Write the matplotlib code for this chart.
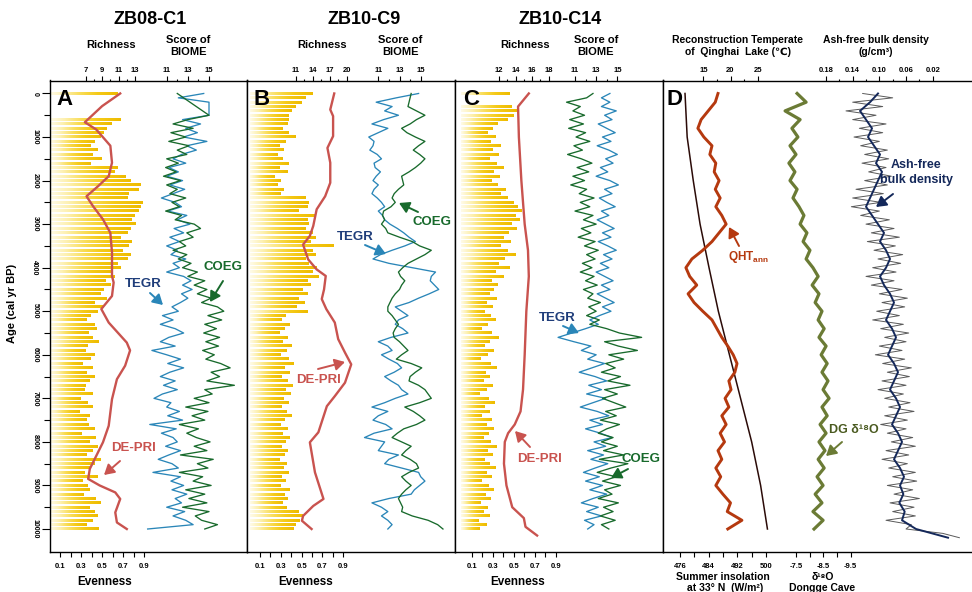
import numpy as np
import matplotlib
matplotlib.use("Agg")
import matplotlib.pyplot as plt
from matplotlib.text import Annotation
from matplotlib.colors import LinearSegmentedColormap

plt.rcParams['font.family'] = ['Liberation Sans', 'DejaVu Sans']
plt.rcParams['font.weight'] = 'bold'
plt.rcParams['mathtext.default'] = 'regular'

# ---------------------------------------------------------------- data
sample_age = np.arange(0, 10001, 100)          # pollen sample ages (cal yr BP)

# --- ZB08-C1
even_a = [0.64, 0, 0, 0, 0, 0, 0.67, 0.59, 0.54, 0.51,
          0.48, 0.42, 0.39, 0.45, 0.40, 0.49, 0.39, 0.64, 0.61, 0.72,
          0.77, 0.86, 0.84, 0.75, 0.74, 0.88, 0.86, 0.84, 0.80, 0.78,
          0.81, 0.77, 0.74, 0.67, 0.78, 0.75, 0.69, 0.77, 0.74, 0.64,
          0.67, 0.58, 0.61, 0.53, 0.58, 0.51, 0.48, 0.54, 0.42, 0.51,
          0.45, 0.39, 0.35, 0.42, 0.44, 0.37, 0.40, 0.46, 0.36, 0.34,
          0.42, 0.39, 0.31, 0.40, 0.35, 0.42, 0.38, 0.34, 0.33, 0.40,
          0.29, 0.36, 0.40, 0.28, 0.38, 0.35, 0.37, 0.42, 0.30, 0.43,
          0.38, 0.45, 0.40, 0.35, 0.48, 0.42, 0.38, 0.33, 0.45, 0.31,
          0.36, 0.38, 0.32, 0.43, 0.48, 0.38, 0.42, 0.45, 0.40, 0.35,
          0.46]
rich_a_age = [0, 290, 660, 830, 1200, 1590, 1900, 2130, 2360, 2590,
              2890, 3200, 3650, 4190, 4340, 4650, 4950, 5260, 5720, 5900,
              6250, 6560, 7020, 7630, 8010, 8620, 8850, 9000, 9160, 9310,
              9620, 9850, 10000]
rich_a = [11.2, 9.0, 6.9, 8.3, 10.0, 10.2, 9.8, 8.5, 7.1, 7.9,
          9.1, 10.0, 10.2, 10.2, 10.4, 10.2, 8.9, 9.8, 12.0, 12.4,
          11.8, 10.8, 10.2, 9.8, 9.1, 7.5, 7.3, 8.7, 10.6, 11.2,
          10.6, 10.8, 12.0]
tegr_a = [14.5, 12.1, 15.0, 15.0, 15.0, 15.0, 12.5, 14.2, 12.8, 13.9,
          12.6, 14.8, 12.9, 13.8, 12.4, 11.6, 12.8, 11.2, 12.1, 11.0,
          12.5, 11.3, 12.7, 11.6, 10.5, 11.8, 12.4, 11.1, 12.9, 12.0,
          13.2, 11.7, 12.6, 11.3, 12.2, 11.0, 12.0, 11.4, 12.8, 11.6,
          12.2, 11.0, 12.6, 13.3, 12.5, 13.4, 12.4, 13.0, 12.3, 11.5,
          12.1, 10.6, 11.6, 10.4, 11.8, 12.6, 11.2, 10.4, 11.8, 9.6,
          11.0, 12.3, 11.1, 12.6, 11.3, 10.4, 11.8, 10.7, 12.0, 10.6,
          9.8, 11.4, 11.0, 12.2, 11.1, 12.5, 9.4, 11.9, 10.5, 11.6,
          12.0, 10.9, 12.3, 11.2, 10.2, 11.5, 12.1, 9.7, 12.3, 11.4,
          12.6, 11.5, 12.9, 11.8, 12.4, 11.0, 12.7, 11.6, 12.8, 13.5,
          9.2]
coeg_a = [12.0, 12.6, 13.2, 13.8, 14.4, 15.0, 13.0, 11.6, 13.5, 11.4,
          12.8, 11.2, 13.1, 12.0, 12.9, 11.0, 12.1, 10.9, 11.9, 10.7,
          12.3, 11.0, 12.0, 11.3, 12.8, 11.5, 12.2, 10.9, 12.4, 11.8,
          13.6, 14.2, 12.9, 13.5, 12.2, 12.8, 11.6, 12.9, 12.1, 13.3,
          12.5, 13.9, 13.0, 14.6, 13.6, 14.8, 13.9, 15.2, 14.3, 15.8,
          16.4, 14.9, 16.2, 14.6, 15.7, 14.5, 16.0, 14.7, 15.9, 14.4,
          15.5, 14.7, 16.1, 17.0, 15.2, 16.0, 14.8, 17.4, 14.6, 15.3,
          13.6, 15.0, 12.8, 14.9, 13.4, 14.6, 12.2, 14.0, 12.9, 13.8,
          15.1, 13.6, 14.8, 12.3, 15.4, 13.9, 14.9, 12.2, 14.4, 13.5,
          15.2, 12.8, 14.6, 13.1, 14.8, 12.5, 15.0, 13.7, 14.3, 15.8,
          14.6]

# --- ZB10-C9
even_b = [0.60, 0.53, 0.49, 0.44, 0.40, 0.37, 0.37, 0.36, 0.31, 0.37,
          0.44, 0.34, 0.28, 0.32, 0.26, 0.31, 0.37, 0.28, 0.36, 0.24,
          0.29, 0.26, 0.32, 0.29, 0.53, 0.56, 0.55, 0.47, 0.63, 0.55,
          0.56, 0.53, 0.60, 0.63, 0.58, 0.80, 0.60, 0.63, 0.53, 0.56,
          0.64, 0.60, 0.66, 0.55, 0.58, 0.50, 0.55, 0.47, 0.52, 0.45,
          0.55, 0.34, 0.30, 0.38, 0.33, 0.28, 0.36, 0.31, 0.40, 0.35,
          0.29, 0.37, 0.42, 0.33, 0.38, 0.30, 0.36, 0.41, 0.34, 0.39,
          0.32, 0.37, 0.30, 0.35, 0.40, 0.33, 0.29, 0.36, 0.31, 0.38,
          0.34, 0.30, 0.36, 0.33, 0.28, 0.35, 0.32, 0.37, 0.30, 0.34,
          0.29, 0.38, 0.33, 0.36, 0.31, 0.35, 0.47, 0.50, 0.48, 0.44,
          0.42]
rich_b_age = [0, 370, 520, 980, 1250, 1590, 2050, 2360, 2660, 3040,
              3270, 3470, 3810, 4040, 4190, 4500, 4720, 4950, 5260, 5640,
              5950, 6220, 6640, 6950, 7180, 7780, 8010, 8240, 8700, 9310,
              9470, 9700, 9810, 10000]
rich_b = [17.8, 17.1, 17.6, 17.6, 16.6, 17.1, 17.1, 16.2, 14.7, 14.1,
          13.5, 12.3, 13.2, 14.7, 16.3, 16.0, 15.6, 16.4, 17.9, 18.5,
          19.7, 20.8, 19.7, 17.9, 16.5, 15.0, 13.5, 13.8, 14.4, 15.9,
          14.1, 12.3, 12.1, 13.8]
tegr_b = [14.8, 12.7, 10.8, 12.3, 11.6, 12.9, 11.5, 10.4, 11.9, 11.0,
          10.1, 10.6, 10.5, 10.2, 10.9, 11.3, 10.6, 10.7, 11.2, 10.8,
          10.5, 11.0, 10.6, 10.4, 10.9, 11.3, 11.6, 11.0, 11.4, 11.6,
          12.1, 12.8, 13.4, 13.9, 14.5, 13.5, 12.3, 11.2, 10.5, 12.0,
          14.2, 16.4, 16.0, 15.9, 16.3, 16.7, 15.8, 14.8, 13.9, 12.6,
          13.2, 13.8, 12.9, 12.6, 13.3, 13.8, 12.2, 11.0, 11.9, 12.3,
          11.3, 12.0, 12.8, 13.2, 12.5, 11.6, 12.2, 12.9, 13.2, 13.8,
          12.6, 11.6, 10.4, 11.9, 11.0, 10.5, 11.7, 12.3, 10.6, 9.7,
          11.6, 11.3, 11.0, 12.9, 12.0, 11.6, 13.2, 14.8, 15.0, 15.4,
          14.9, 14.4, 14.1, 12.0, 10.4, 11.3, 11.9, 11.3, 11.9, 12.3,
          11.9]
coeg_b = [14.1, 14.0, 13.9, 13.8, 14.6, 15.4, 14.6, 14.0, 13.2, 13.7,
          14.5, 15.4, 14.8, 14.3, 14.9, 15.4, 15.0, 14.5, 13.9, 13.2,
          13.3, 13.4, 12.9, 12.5, 12.3, 12.6, 12.2, 11.5, 11.4, 11.6,
          11.3, 11.7, 11.9, 13.0, 14.2, 14.9, 16.0, 15.4, 14.6, 13.8,
          13.3, 12.9, 13.1, 13.5, 13.2, 13.0, 12.6, 12.3, 12.1, 11.9,
          11.9, 12.3, 12.6, 12.9, 12.6, 12.4, 12.5, 13.0, 13.4, 13.8,
          13.2, 12.7, 14.1, 15.1, 14.5, 14.0, 13.9, 14.8, 15.4, 15.7,
          16.0, 14.9, 13.5, 14.3, 14.9, 15.4, 14.6, 13.4, 12.8, 12.3,
          13.2, 14.1, 13.6, 13.2, 14.0, 14.6, 14.8, 13.9, 13.2, 13.6,
          14.1, 13.6, 13.2, 12.9, 13.1, 13.3, 13.2, 14.2, 15.7, 16.6,
          17.1]

# --- ZB10-C14
even_c = [0.46, 0, 0, 0.48, 0.53, 0.50, 0.44, 0.35, 0.30, 0.25,
          0.33, 0.28, 0.38, 0.30, 0.36, 0.27, 0.34, 0.40, 0.31, 0.37,
          0.29, 0.35, 0.42, 0.38, 0.44, 0.50, 0.54, 0.58, 0.52, 0.56,
          0.48, 0.53, 0.45, 0.40, 0.47, 0.38, 0.44, 0.52, 0.41, 0.36,
          0.46, 0.33, 0.40, 0.29, 0.35, 0.31, 0.27, 0.34, 0.24, 0.30,
          0.22, 0.28, 0.33, 0.25, 0.20, 0.29, 0.36, 0.27, 0.22, 0.31,
          0.25, 0.19, 0.28, 0.34, 0.23, 0.27, 0.21, 0.30, 0.24, 0.18,
          0.26, 0.32, 0.22, 0.27, 0.20, 0.29, 0.24, 0.31, 0.26, 0.21,
          0.28, 0.34, 0.25, 0.30, 0.22, 0.27, 0.33, 0.24, 0.29, 0.20,
          0.26, 0.31, 0.23, 0.28, 0.19, 0.25, 0.21, 0.27, 0.17, 0.24,
          0.18]
rich_c_age = [0, 300, 1000, 2000, 3000, 3600, 4200, 5000, 6000, 6800,
              7300, 7600, 7800, 8000, 8500, 9000, 9500, 9750, 9950, 10150]
rich_c = [15.6, 14.3, 14.4, 14.7, 15.1, 15.5, 15.6, 15.3, 15.1, 14.9,
          14.6, 13.9, 13.1, 12.7, 12.6, 12.9, 13.6, 15.0, 15.2, 16.6]
tegr_c = [14.3, 13.5, 14.3, 13.5, 14.9, 13.8, 14.5, 13.2, 14.0, 14.8,
          13.6, 14.4, 13.1, 14.2, 15.0, 13.9, 14.6, 13.4, 14.1, 13.0,
          14.3, 15.1, 13.8, 14.5, 13.3, 14.0, 14.8, 13.5, 14.2, 13.1,
          13.9, 14.7, 13.6, 14.4, 13.2, 14.1, 14.9, 13.7, 14.5, 13.4,
          14.2, 13.0, 13.8, 14.6, 13.5, 14.3, 13.1, 13.9, 14.7, 13.6,
          14.4, 13.3, 12.4, 13.2, 12.0, 10.7, 9.4, 10.9, 12.5, 11.6,
          13.0, 12.2, 13.8, 12.6, 11.4, 12.9, 14.0, 12.3, 13.5, 12.1,
          13.9, 12.7, 11.5, 13.1, 14.2, 12.4, 13.6, 12.0, 13.4, 14.5,
          12.8, 13.9, 12.2, 13.7, 12.5, 14.1, 12.9, 11.8, 13.3, 12.0,
          13.6, 12.4, 14.0, 12.7, 11.6, 13.2, 12.1, 13.5, 11.9, 12.8,
          12.2]
coeg_c = [12.7, 12.1, 10.2, 11.5, 10.8, 11.9, 10.5, 11.8, 10.4, 12.0,
          11.1, 12.4, 10.9, 11.7, 10.3, 11.6, 12.6, 11.2, 12.3, 10.8,
          11.9, 10.6, 12.1, 11.4, 12.8, 11.5, 12.4, 11.0, 12.7, 11.8,
          13.0, 11.6, 12.5, 11.3, 12.9, 11.9, 13.2, 12.1, 12.9, 11.7,
          12.6, 11.5, 12.8, 12.0, 13.1, 11.8, 12.7, 12.2, 13.4, 12.3,
          13.0, 12.1, 13.3, 12.4, 14.0, 15.2, 17.3, 13.8, 15.1, 16.9,
          14.2, 15.6, 13.9, 14.8, 13.5, 15.3, 14.1, 16.2, 13.8, 15.0,
          13.6, 14.7, 15.8, 13.9, 14.9, 13.4, 15.2, 14.0, 13.2, 14.6,
          13.5, 15.0, 13.7, 15.6, 13.3, 16.0, 14.4, 13.1, 14.9, 13.6,
          15.3, 13.8, 14.5, 13.2, 15.1, 13.7, 14.6, 13.4, 14.8, 13.5,
          14.2]

# --- regional records
record_age = np.arange(0, 10001, 200)
qht_ann = [17.7, 17.2, 15.9, 14.6, 14.0, 15.1, 16.6, 16.2, 17.3, 17.0,
           17.9, 17.2, 18.1, 17.3, 18.4, 19.2, 17.9, 16.6, 14.9, 12.9,
           11.8, 12.5, 13.8, 12.2, 13.3, 14.9, 16.6, 17.5, 18.4, 19.5,
           20.5, 21.2, 20.8, 19.7, 20.1, 19.0, 19.7, 18.4, 19.2, 18.1,
           18.9, 17.7, 18.4, 17.3, 18.2, 17.3, 18.6, 20.0, 19.4, 22.1,
           19.5]
dg_d18o = [-7.54, -7.87, -7.10, -7.65, -7.35, -7.57, -7.28, -7.50, -7.24, -7.46,
           -7.28, -7.54, -7.39, -7.61, -7.79, -7.65, -7.90, -7.76, -8.01, -7.87,
           -8.12, -8.31, -8.09, -8.34, -8.20, -8.45, -8.31, -8.53, -8.34, -8.60,
           -8.42, -8.64, -8.45, -8.67, -8.49, -8.71, -8.45, -8.64, -8.38, -8.60,
           -8.34, -8.56, -8.31, -8.53, -8.27, -8.49, -8.20, -8.45, -8.12, -8.49,
           -8.16]
insol_age = [0, 1000, 2000, 3000, 4000, 5000, 6000, 7000, 8000, 9000, 10000]
insolation = [477.4, 478.0, 479.7, 481.6, 484.1, 486.7, 489.8, 492.9, 496.0, 498.5, 500.4]

density_age = np.arange(0, 10201, 200)
density_smooth = [0.102, 0.114, 0.129, 0.120, 0.111, 0.117, 0.108, 0.099, 0.105, 0.096,
                  0.102, 0.108, 0.114, 0.120, 0.111, 0.102, 0.093, 0.099, 0.090, 0.084,
                  0.090, 0.099, 0.093, 0.084, 0.078, 0.084, 0.090, 0.081, 0.075, 0.081,
                  0.087, 0.078, 0.072, 0.078, 0.084, 0.075, 0.069, 0.075, 0.081, 0.072,
                  0.066, 0.072, 0.078, 0.069, 0.063, 0.069, 0.064, 0.070, 0.062, 0.066,
                  0.045, -0.003]
density_raw_age = np.arange(0, 10201, 100)
density_raw = [0.125, 0.080, 0.140, 0.095, 0.150, 0.105, 0.140, 0.090, 0.130, 0.095,
               0.138, 0.100, 0.128, 0.088, 0.122, 0.086, 0.126, 0.090, 0.116, 0.082,
               0.122, 0.088, 0.135, 0.094, 0.140, 0.098, 0.142, 0.100, 0.128, 0.085,
               0.120, 0.078, 0.112, 0.070, 0.118, 0.076, 0.108, 0.065, 0.102, 0.068,
               0.110, 0.075, 0.120, 0.078, 0.112, 0.066, 0.100, 0.058, 0.096, 0.062,
               0.104, 0.070, 0.110, 0.064, 0.098, 0.056, 0.092, 0.060, 0.100, 0.066,
               0.106, 0.062, 0.095, 0.052, 0.088, 0.055, 0.096, 0.060, 0.102, 0.064,
               0.092, 0.054, 0.086, 0.048, 0.092, 0.058, 0.098, 0.060, 0.088, 0.050,
               0.082, 0.046, 0.090, 0.056, 0.096, 0.058, 0.086, 0.046, 0.080, 0.044,
               0.088, 0.050, 0.078, 0.040, 0.084, 0.048, 0.080, 0.046, 0.090, 0.052,
               0.060, 0.005, -0.020]

# tick values
age_major = [0, 1000, 2000, 3000, 4000, 5000, 6000, 7000, 8000, 9000, 10000]
age_minor = [500, 1500, 2500, 3500, 4500, 5500, 6500, 7500, 8500, 9500]
even_major, even_minor = [0.1, 0.3, 0.5, 0.7, 0.9], [0.2, 0.4, 0.6, 0.8]
score_major, score_minor = [11, 13, 15], [12, 14]

# ---------------------------------------------------------------- styling
W, H = 972, 592
Y_TOP, Y_BOT = 80.5, 552.0
AGE_LIM = (10528, -298)

RED = '#c9534f'
BLUE = '#2a86b8'
GREEN = '#186a2c'
NAVY_TXT = '#1f3d7a'
QHT_C = '#b5390f'
INSOL_C = '#2b0b08'
DG_C = '#6b7b35'
DENS_C = '#14285a'
RAW_C = '#5a5a5a'
BAR_CMAP = LinearSegmentedColormap.from_list(
    'even', [(0, '#fffbe8'), (0.2, '#fdf0b0'), (0.45, '#f9dc55'),
             (0.7, '#f5ca18'), (1.0, '#eebb00')])
BAR_GRAD = np.linspace(0, 1, 64).reshape(1, -1)

fig = plt.figure(figsize=(W / 100, H / 100), dpi=100)


def add_axes(x0, x1):
    return fig.add_axes([x0 / W, 1 - Y_BOT / H, (x1 - x0) / W, (Y_BOT - Y_TOP) / H])


def span(v1, p1, v2, p2, x0, x1):
    s = (p2 - p1) / (v2 - v1)
    return (v1 + (x0 - p1) / s, v1 + (x1 - p1) / s)


def scale_axis(axis, lim, major, minor, fmt, where):
    axis.set_xlim(*lim)
    axis.set_xticks(major)
    axis.set_xticklabels([fmt.format(v) for v in major])
    axis.set_xticks(minor, minor=True)
    if where == 'top':
        axis.xaxis.tick_top()
        axis.tick_params(axis='x', which='major', length=3.4, pad=1.6)
        axis.tick_params(axis='x', which='minor', length=1.8)
    else:
        axis.xaxis.tick_bottom()
        axis.tick_params(axis='x', which='both', length=3.6, pad=4)
    axis.tick_params(axis='x', which='both', direction='out', width=0.8, labelsize=5.5)


def twin(ax):
    t = ax.twiny()
    for s in t.spines.values():
        s.set_visible(False)
    t.set_ylim(*AGE_LIM)
    return t


def frame(ax, show_age):
    for s in ax.spines.values():
        s.set_linewidth(1.0)
    ax.set_ylim(*AGE_LIM)
    if show_age:
        ax.set_yticks(age_major)
        ax.set_yticklabels([str(v) for v in age_major], rotation=270, va='center')
        ax.set_yticks(age_minor, minor=True)
        ax.tick_params(axis='y', which='major', direction='out', length=5.5, width=0.8,
                       labelsize=5, pad=2.5)
        ax.tick_params(axis='y', which='minor', direction='out', length=4.5, width=0.8)
    else:
        ax.tick_params(axis='y', which='both', left=False, labelleft=False)


def gradient_bars(ax, ages, values):
    # each bar fades from a pale cream at its base to gold at its tip
    bars = ax.barh(ages, values, height=62, left=0, color='none', linewidth=0)
    for b in bars:
        w = b.get_width()
        if w <= 0:
            continue
        y0 = b.get_y()
        ax.imshow(BAR_GRAD, cmap=BAR_CMAP, extent=(0, w, y0 + b.get_height(), y0),
                  aspect='auto', interpolation='bilinear', zorder=1)


def pollen_panel(x0, x1, even_px, rich_px, score_px, rich_ticks, even, rich_age, rich,
                 tegr, coeg, show_age):
    ax = add_axes(x0, x1)
    gradient_bars(ax, sample_age, even)
    scale_axis(ax, span(*even_px, x0, x1), even_major, even_minor, '{:g}', 'bottom')
    frame(ax, show_age)

    tr = twin(ax)
    tr.plot(rich, rich_age, color=RED, lw=1.7, solid_joinstyle='round')
    scale_axis(tr, span(*rich_px, x0, x1), rich_ticks[0], rich_ticks[1], '{:g}', 'top')

    ts = twin(ax)
    ts.plot(tegr, sample_age, color=BLUE, lw=0.95)
    ts.plot(coeg, sample_age, color=GREEN, lw=0.95)
    scale_axis(ts, span(*score_px, x0, x1), score_major, score_minor, '{:g}', 'top')
    return ax


pollen_panel(49.5, 246.5, (0.1, 60, 0.9, 144), (7, 85.7, 13, 135), (11, 166.7, 15, 209),
             ([7, 9, 11, 13], [8, 10, 12]), even_a, rich_a_age, rich_a, tegr_a, coeg_a, True)
pollen_panel(246.5, 454.5, (0.1, 260, 0.9, 343.3), (11, 295.7, 20, 346.7), (11, 378.3, 15, 420.7),
             ([11, 14, 17, 20], [12.5, 15.5, 18.5]), even_b, rich_b_age, rich_b, tegr_b, coeg_b, False)
pollen_panel(454.5, 662.5, (0.1, 471.7, 0.9, 555.7), (12, 499, 18, 548.7), (11, 575, 15, 617.3),
             ([12, 14, 16, 18], [13, 15, 17]), even_c, rich_c_age, rich_c, tegr_c, coeg_c, False)

# --- regional climate panel
dx0, dx1 = 662.5, 972.5
axd = add_axes(dx0, dx1)
axd.plot(insolation, insol_age, color=INSOL_C, lw=1.1)
scale_axis(axd, span(476, 680, 500, 766, dx0, dx1), [476, 484, 492, 500], [480, 488, 496], '{:g}', 'bottom')
frame(axd, False)

t_o = twin(axd)
t_o.plot(dg_d18o, record_age, color=DG_C, lw=2.3, solid_joinstyle='round')
scale_axis(t_o, span(-7.5, 796, -9.5, 850.7, dx0, dx1), [-7.5, -8.5, -9.5], [-8.0, -9.0], '{:g}', 'bottom')

t_t = twin(axd)
t_t.plot(qht_ann, record_age, color=QHT_C, lw=2.1, solid_joinstyle='round')
scale_axis(t_t, span(15, 703.3, 25, 757.7, dx0, dx1), [15, 20, 25], [17.5, 22.5], '{:g}', 'top')

t_d = twin(axd)
t_d.plot(density_raw, density_raw_age, color=RAW_C, lw=0.7)
t_d.plot(density_smooth, density_age, color=DENS_C, lw=1.4)
scale_axis(t_d, span(0.18, 826, 0.02, 932.7, dx0, dx1), [0.18, 0.14, 0.10, 0.06, 0.02],
           [0.16, 0.12, 0.08, 0.04], '{:.2f}', 'top')


# ---------------------------------------------------------------- text
def label(x, y, s, size=8, color='black', rotation=0):
    fig.text(x / W, 1 - y / H, s, fontsize=size, color=color, ha='center', va='center',
             fontweight='bold', rotation=rotation)


def arrow(tail, head, color):
    fig.add_artist(Annotation('', xy=(head[0], H - head[1]), xycoords='figure pixels',
                              xytext=(tail[0], H - tail[1]), textcoords='figure pixels',
                              arrowprops=dict(arrowstyle='-|>,head_length=0.6,head_width=0.35',
                                              color=color, lw=1.4, shrinkA=0, shrinkB=0,
                                              mutation_scale=10)))


for s, x in [('ZB08-C1', 150), ('ZB10-C9', 364.5), ('ZB10-C14', 560.5)]:
    label(x, 20, s, size=13)
for x in [111.5, 322.5, 525]:
    label(x, 45, 'Richness', size=8)
for x in [188, 400, 596]:
    label(x, 40, 'Score of', size=8)
    label(x, 52, 'BIOME', size=8)
for x in [105, 305.7, 517.5]:
    label(x, 581.7, 'Evenness', size=8.5)

label(737.5, 40, 'Reconstruction Temperate', size=7.5)
label(737.5, 51.7, 'of  Qinghai  Lake (\u2103)', size=7.5)
label(876, 40, 'Ash-free bulk density', size=7.5)
label(876, 52, '(g/cm\u00b3)', size=7.5)
label(722.5, 576.7, 'Summer insolation', size=7.5)
label(725, 588.3, 'at 33\u00b0 N  (W/m\u00b2)', size=7.5)
label(823, 576.7, '\u03b4\u00b9\u2078O', size=7.5)
label(821.7, 588.3, 'Dongge Cave', size=7.5)
label(12, 303, 'Age (cal yr BP)', size=8, rotation=90)

for s, x in [('A', 64), ('B', 262), ('C', 471), ('D', 674)]:
    label(x, 100, s, size=16)

# series call-outs
label(143, 284, 'TEGR', 9.5, NAVY_TXT)
arrow((150, 293), (163, 305), BLUE)
label(223, 267, 'COEG', 9.5, GREEN)
arrow((223, 281), (210, 302), GREEN)
label(133, 448, 'DE-PRI', 9.5, RED)
arrow((120, 461), (104, 475), RED)

label(355, 237, 'TEGR', 9.5, NAVY_TXT)
arrow((365, 245), (386, 254), BLUE)
label(432, 222, 'COEG', 9.5, GREEN)
arrow((418, 212), (399, 203), GREEN)
label(318, 380, 'DE-PRI', 9.5, RED)
arrow((318, 369), (345, 362), RED)

label(557, 318, 'TEGR', 9.5, NAVY_TXT)
arrow((563, 326), (579, 333), BLUE)
label(641, 459, 'COEG', 9.5, GREEN)
arrow((628, 469), (611, 478), GREEN)
label(539, 459, 'DE-PRI', 9.5, RED)
arrow((530, 447), (515, 431), RED)

label(749, 257, r'QHT$_{ann}$', 8.5, QHT_C)
arrow((739, 246), (729, 227), QHT_C)
label(916, 165, 'Ash-free', 9, DENS_C)
label(916, 180, 'bulk density', 9, DENS_C)
arrow((893, 194), (876, 207), DENS_C)
label(854, 430, 'DG \u03b4\u00b9\u2078O', 9, '#4a5a20')
arrow((842, 442), (826, 456), DG_C)

fig.savefig('out.png', dpi=100)
